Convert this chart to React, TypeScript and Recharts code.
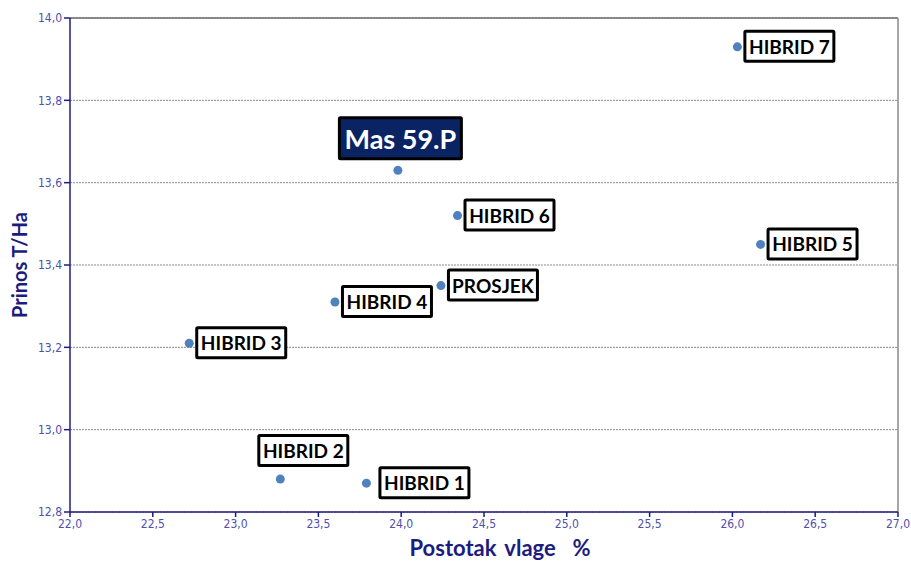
import { ScatterChart, Scatter, XAxis, YAxis, CartesianGrid, ReferenceLine } from 'recharts';

const HYBRIDS = ['HIBRID 1', 'HIBRID 2', 'HIBRID 3', 'HIBRID 4', 'HIBRID 5', 'HIBRID 6', 'HIBRID 7', 'Mas 59.P', 'PROSJEK'];
const MOISTURE = [23.79, 23.27, 22.72, 23.6, 26.17, 24.34, 26.03, 23.98, 24.24];
const YIELD = [12.87, 12.88, 13.21, 13.31, 13.45, 13.52, 13.93, 13.63, 13.35];

const X_TICKS = [22, 22.5, 23, 23.5, 24, 24.5, 25, 25.5, 26, 26.5, 27];
const Y_TICKS = [12.8, 13.0, 13.2, 13.4, 13.6, 13.8, 14.0];

const data = HYBRIDS.map((name, i) => ({ name, x: MOISTURE[i], y: YIELD[i] }));

// label box offsets relative to the point (top-left of box)
const PLACEMENT: Record<string, { dx: number; dy: number }> = {
  'HIBRID 1': { dx: 12, dy: -17 },
  'HIBRID 2': { dx: -23, dy: -45 },
  'Mas 59.P': { dx: -60, dy: -54 },
};

const NAVY = '#1c1c80';
const TICK_COLOR = '#4f4fad';
const TICK_FONT = "'Liberation Sans Narrow', 'DejaVu Sans Condensed', sans-serif";
const fmt = (v: number) => v.toFixed(1).replace('.', ',');

function PointWithLabel(props: any) {
  const { cx, cy, payload } = props;
  if (cx == null || cy == null) return null;
  const highlight = payload.name === 'Mas 59.P';
  const place = PLACEMENT[payload.name] ?? { dx: 6, dy: -17 };
  const w = highlight ? 125 : 92;
  const h = highlight ? 44 : 33;
  const bx = cx + place.dx;
  const by = cy + place.dy;
  return (
    <g>
      <circle cx={cx} cy={cy} r={4.5} fill="#4f81bd" />
      <rect
        x={bx + 1.5}
        y={by + 1.5}
        width={w - 3}
        height={h - 3}
        fill={highlight ? '#0a2463' : '#ffffff'}
        stroke="#000000"
        strokeWidth={3}
        rx={1}
      />
      <text
        x={bx + w / 2}
        y={by + h / 2}
        textAnchor="middle"
        dominantBaseline="central"
        fontFamily="Lato, 'Open Sans', sans-serif"
        fontWeight={700}
        fontSize={highlight ? 27 : 19}
        fill={highlight ? '#ffffff' : '#000000'}
      >
        {payload.name}
      </text>
    </g>
  );
}

export default function App() {
  return (
    <div style={{ position: 'absolute', left: 0, top: 0, width: 911, height: 563, background: '#fff' }}>
      <ScatterChart width={911} height={563} margin={{ top: 18, right: 13, left: 26, bottom: 0 }}>
        <CartesianGrid horizontal vertical={false} stroke="#8a8a8a" strokeDasharray="2 1" />
        <XAxis
          type="number"
          dataKey="x"
          domain={[22, 27]}
          ticks={X_TICKS}
          tickFormatter={fmt}
          height={51}
          stroke={NAVY}
          strokeWidth={1.5}
          tickSize={5}
          tick={{ fill: TICK_COLOR, fontSize: 12, fontFamily: TICK_FONT }}
          allowDataOverflow
        />
        <YAxis
          type="number"
          dataKey="y"
          domain={[12.8, 14.0]}
          ticks={Y_TICKS}
          tickFormatter={fmt}
          width={44}
          stroke={NAVY}
          strokeWidth={1.5}
          tickSize={6}
          tick={{ fill: TICK_COLOR, fontSize: 12, fontFamily: TICK_FONT }}
          allowDataOverflow
        />
        <ReferenceLine y={14.0} stroke="#6e6e6e" strokeWidth={1.5} />
        <ReferenceLine x={27} stroke="#8a8a8a" strokeWidth={1.5} />
        <Scatter data={data} shape={PointWithLabel} isAnimationActive={false} />
      </ScatterChart>
      <div
        style={{
          position: 'absolute',
          left: 19,
          top: 265,
          transform: 'translate(-50%, -50%) rotate(-90deg)',
          whiteSpace: 'nowrap',
          lineHeight: 1,
          fontFamily: "Lato, 'Open Sans', sans-serif",
          fontWeight: 700,
          fontSize: 20,
          color: NAVY,
        }}
      >
        Prinos T/Ha
      </div>
      <div
        style={{
          position: 'absolute',
          left: 500,
          top: 548,
          transform: 'translate(-50%, -50%)',
          whiteSpace: 'pre',
          wordSpacing: 3,
          lineHeight: 1,
          fontFamily: "Lato, 'Open Sans', sans-serif",
          fontWeight: 700,
          fontSize: 22,
          color: NAVY,
        }}
      >
        Postotak vlage  %
      </div>
    </div>
  );
}
